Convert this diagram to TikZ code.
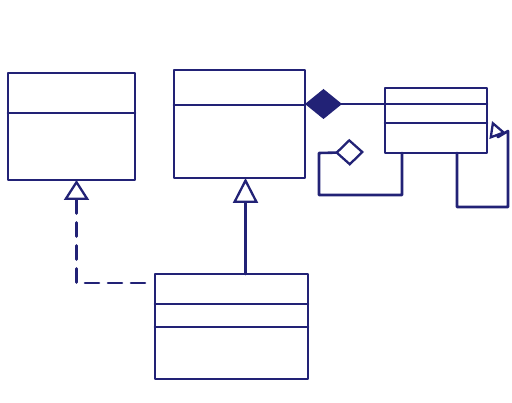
\documentclass[tikz,border=0pt]{standalone}
\usetikzlibrary{arrows.meta}
\definecolor{ink}{RGB}{34,34,118}
\begin{document}
\begin{tikzpicture}[x=1pt, y=-1pt, line join=round, line cap=round, line width=2.6pt, draw=ink,
		umlclass/.style={draw=ink, line width=2.6pt, anchor=north west, inner sep=0pt, outer sep=0pt},
		inherit/.style={draw=ink, -{Triangle[open, length=25pt, width=25pt, line width=2.3pt]}},
		realize/.style={draw=ink, dash pattern=on 14pt off 9pt, -{Triangle[open, length=20pt, width=25pt, line width=2.3pt]}},
		compose/.style={draw=ink, -{Diamond[length=37pt, width=30pt, fill=ink]}},
		aggregate/.style={draw=ink, -{Diamond[open, length=29pt, width=27pt, line width=2.3pt]}}]
	\useasboundingbox (0,0) rectangle (512,403);
	\node[umlclass, minimum width=127pt, minimum height=107pt] (A) at (8,73) {};
	\node[umlclass, minimum width=131pt, minimum height=108pt] (B) at (174,70) {};
	\node[umlclass, minimum width=102pt, minimum height=65pt] (C) at (385,88) {};
	\node[umlclass, minimum width=153pt, minimum height=105pt] (D) at (155,274) {};
	% compartments
	\foreach \n/\d in {A/40,B/35,C/16,C/35,D/30,D/53}
	\draw[ink] ([yshift=-\d pt]\n.north west) -- ([yshift=-\d pt]\n.north east);
	% relations
	\draw[inherit] ([xshift=6pt]B.south |- D.north) -- ([xshift=6pt]B.south);
	\draw[realize, shorten <=10pt] ([yshift=-9pt]D.north west) -| ([xshift=5pt]A.south);
	\draw[compose] ([yshift=-16pt]C.north west) -- ([yshift=-16pt]C.north west -| B.east);
	\coordinate (aggEnd) at (364,152);
	\draw[aggregate] ([xshift=17pt]C.south west) -- ++(0,42) -- ++(-83,0) -- ++(0,-42) -- (aggEnd);
	\coordinate (genEnd) at (492,121);
	\draw[inherit, -{Triangle[open, length=16pt, width=17pt, line width=2.3pt]}] ([xshift=-30pt]C.south east) -- ++(0,54) -- ++(51,0) -- ++(0,-76) -- (498,137) -- (genEnd);
\end{tikzpicture}
\end{document}
